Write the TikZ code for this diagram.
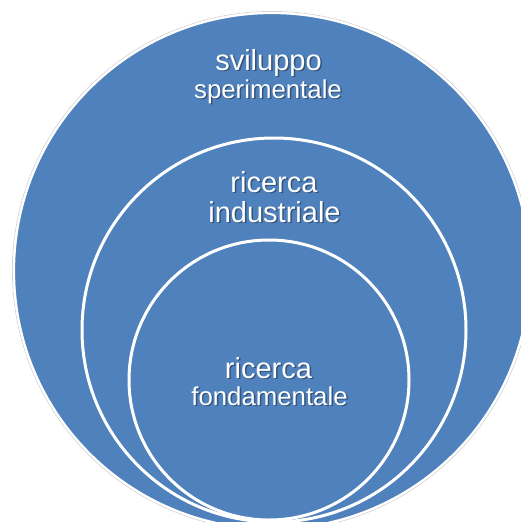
\documentclass[tikz,border=0pt]{standalone}
\usepackage{fontspec}
\setmainfont{Liberation Sans}
\definecolor{ofblue}{HTML}{4F81BD}
\begin{document}
\begin{tikzpicture}[x=1pt,y=-1pt,
 ring/.style={draw=white,line width=3pt,fill=ofblue},
 lbl/.style={anchor=base,text=white,inner sep=0pt},
 shd/.style={anchor=base,text=black,opacity=0.35,inner sep=0pt},
 big/.style={font=\fontsize{29}{29}\selectfont},
 small/.style={font=\fontsize{25.8}{26}\selectfont}]
\useasboundingbox (0,0) rectangle (521,522);
\clip (0,0) rectangle (521,522);
% outer circle
\draw[gray!35, line width=0.7pt] (272,271) circle (259.6pt);
\filldraw[ring, line width=2.2pt] (272,271) circle (258pt);
% middle circle
\filldraw[ring] (274,330) circle (192pt);
% inner circle
\filldraw[ring] (269,380) circle (140pt);
% labels: outer
\node[shd,big,name=s1] at (270,71.5) {sviluppo};
\node[lbl,big,name=l1] at (268.5,70) {sviluppo};
\node[shd,small,name=s2] at (269.5,99.5) {sperimentale};
\node[lbl,small,name=l2] at (268,98) {sperimentale};
% labels: middle
\node[shd,big,name=s3] at (275.5,193.5) {ricerca};
\node[lbl,big,name=l3] at (274,192) {ricerca};
\node[shd,big,name=s4] at (276,223.5) {industriale};
\node[lbl,big,name=l4] at (274.5,222) {industriale};
% labels: inner
\node[shd,big,name=s5] at (270,379.5) {ricerca};
\node[lbl,big,name=l5] at (268.5,378) {ricerca};
\node[shd,small,name=s6] at (271,406.5) {fondamentale};
\node[lbl,small,name=l6] at (269.5,405) {fondamentale};
\end{tikzpicture}
\end{document}
